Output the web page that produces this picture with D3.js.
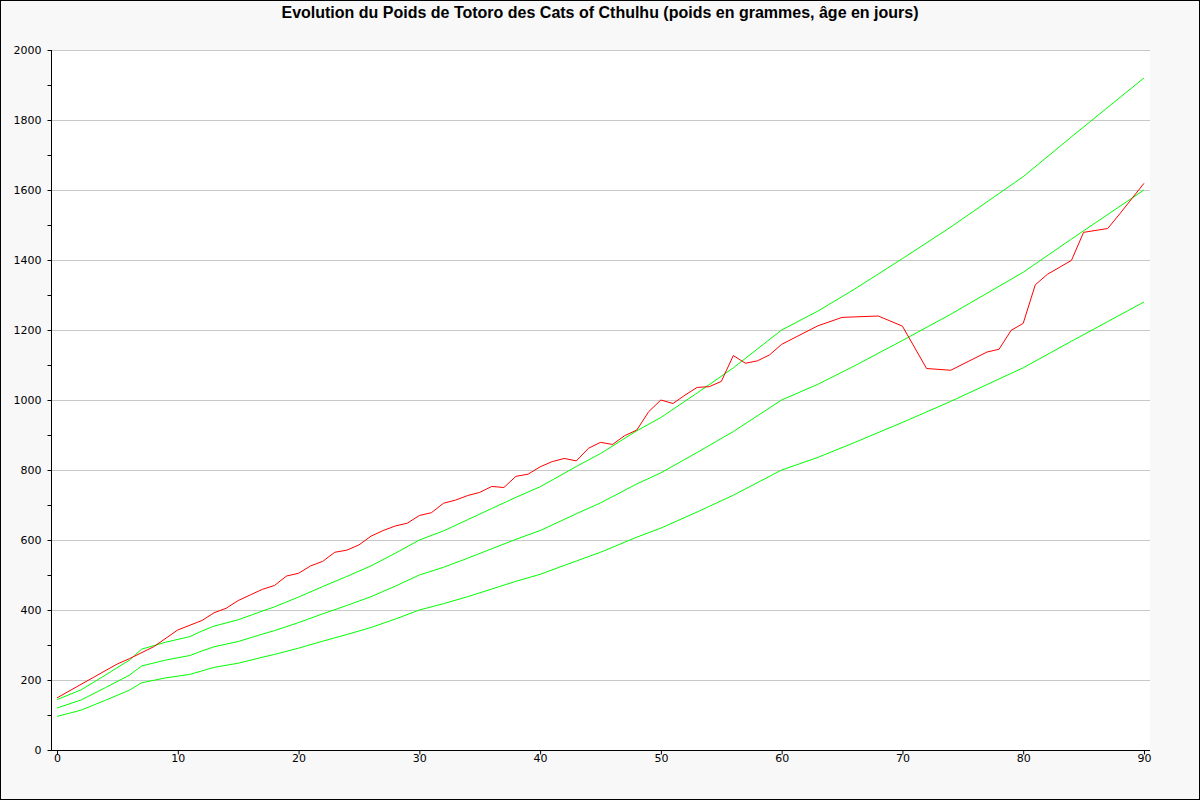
<!DOCTYPE html>
<html><head><meta charset="utf-8">
<script src="https://cdn.jsdelivr.net/npm/d3@7"></script>
<style>html,body{margin:0;padding:0;background:#f8f8f8;}svg{display:block;}</style>
</head><body>
<svg id="c" width="1200" height="800"></svg>
<script>
const title = "Evolution du Poids de Totoro des Cats of Cthulhu (poids en grammes, âge en jours)";
const xTicks = [0,10,20,30,40,50,60,70,80,90];
const yTicks = [0,200,400,600,800,1000,1200,1400,1600,1800,2000];
const yMinorTicks = [0,100,200,300,400,500,600,700,800,900,1000,1100,1200,1300,1400,1500,1600,1700,1800,1900,2000];

const refDays = [0,2,4,6,7,9,11,12,13,15,17,18,20,22,24,26,28,30,32,34,36,38,40,43,45,48,50,53,56,60,63,66,70,74,77,80,84,87,90];
const refHigh = [144,172,214,257,288,308,324,340,354,372,397,409,437,467,496,526,562,600,626,658,690,722,752,810,847,912,950,1020,1092,1200,1254,1316,1404,1494,1566,1638,1752,1836,1920];
const refMid  = [120,143,178,214,240,257,270,283,295,310,331,341,364,389,413,438,468,500,522,548,575,602,627,675,706,760,792,850,910,1000,1045,1097,1170,1245,1305,1365,1460,1530,1600];
const refLow  = [96,114,142,171,192,206,216,226,236,248,265,273,291,311,330,350,374,400,418,438,460,482,502,540,565,608,634,680,728,800,836,878,936,996,1044,1092,1168,1224,1280];

const totoroDays = [0,5,6,8,10,12,13,14,15,16,17,18,19,20,21,22,23,24,25,26,27,28,29,30,31,32,33,34,35,36,37,38,39,40,41,42,43,44,45,46,47,48,49,50,51,52,53,54,55,56,57,58,59,60,63,65,68,70,72,74,77,78,79,80,81,82,84,85,87,88,90];
const totoroWeight = [149,246,261,295,343,370,392,405,427,443,459,470,497,505,526,539,565,571,586,611,627,640,648,670,678,705,714,727,736,753,750,782,788,809,824,833,826,862,879,873,898,914,967,1000,990,1014,1036,1038,1053,1127,1105,1112,1129,1159,1212,1236,1240,1211,1090,1085,1137,1145,1199,1219,1329,1359,1399,1479,1490,1532,1619];

const W = 1200, H = 800;
const plot = {left: 51, right: 1150, top: 50, bottom: 750};
const svg = d3.select("#c");

svg.append("rect").attr("x",0.5).attr("y",0.5).attr("width",W-1).attr("height",H-1)
  .attr("fill","#f8f8f8").attr("stroke","#000").attr("stroke-width",1);
svg.append("rect").attr("x",plot.left).attr("y",plot.top)
  .attr("width",plot.right-plot.left).attr("height",plot.bottom-plot.top).attr("fill","#fff");

const x = d3.scaleLinear().domain([-0.5, 90.5]).range([plot.left, plot.right]);
const y = d3.scaleLinear().domain([0, 2000]).range([plot.bottom, plot.top]);

// grid
svg.append("g").selectAll("line").data(yTicks.filter(d=>d>0)).join("line")
  .attr("x1",plot.left).attr("x2",plot.right)
  .attr("y1",d=>Math.round(y(d))+0.5).attr("y2",d=>Math.round(y(d))+0.5)
  .attr("stroke","#c8c8c8").attr("stroke-width",1);

// y axis
const yAxis = d3.axisLeft(y).tickValues(yMinorTicks).tickSize(4)
  .tickFormat(d => yTicks.includes(d) ? d : "");
const gy = svg.append("g").attr("transform",`translate(${plot.left+0.5},0)`).call(yAxis);
gy.select(".domain").attr("d",`M0,${plot.top}V${plot.bottom}`).attr("stroke","#000");
gy.selectAll(".tick line").attr("stroke","#000");
gy.selectAll(".tick text").attr("x",-10).attr("font-family","DejaVu Sans").attr("font-size",11).attr("fill","#000");

// x axis
const xAxis = d3.axisBottom(x).tickValues(xTicks).tickSize(4).tickFormat(d=>d);
const gx = svg.append("g").attr("transform",`translate(0,${plot.bottom+0.5})`).call(xAxis);
gx.select(".domain").attr("d",`M${plot.left},0H${plot.right}`).attr("stroke","#000");
gx.selectAll(".tick line").attr("stroke","#000");
gx.selectAll(".tick text").attr("y",4).attr("font-family","DejaVu Sans").attr("font-size",11).attr("fill","#000");

// lines
const line = d3.line().x(d=>x(d[0])).y(d=>y(d[1]));
[refLow, refMid, refHigh].forEach(vals => {
  svg.append("path").datum(refDays.map((d,i)=>[d, vals[i]]))
    .attr("d", line).attr("fill","none").attr("stroke","#00ff00").attr("stroke-width",1);
});
svg.append("path").datum(totoroDays.map((d,i)=>[d, totoroWeight[i]]))
  .attr("d", line).attr("fill","none").attr("stroke","#ff0000").attr("stroke-width",1);

// title
svg.append("text").attr("x",600).attr("y",18).attr("text-anchor","middle")
  .attr("font-family","Liberation Sans, Arial, sans-serif").attr("font-weight","bold")
  .attr("font-size",16).attr("fill","#000").text(title);
</script>
</body></html>
